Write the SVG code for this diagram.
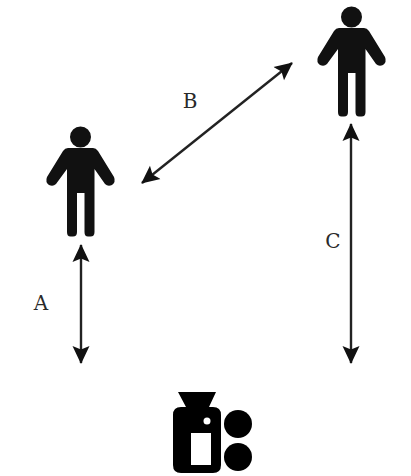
<svg xmlns="http://www.w3.org/2000/svg" width="411" height="476" viewBox="0 0 411 476">
<style>
.lbl{font-family:"DejaVu Serif","Liberation Serif",serif;font-size:20px;fill:#2a2a2a}
.conn{stroke:#222;stroke-width:2.4;fill:none;marker-start:url(#ah);marker-end:url(#ah)}
</style>
<defs>
<marker id="ah" viewBox="0 0 18 18" refX="17" refY="9" markerWidth="18" markerHeight="18" markerUnits="userSpaceOnUse" orient="auto-start-reverse"><path d="M0 0.5L18 9L0 17.5L3.500 9Z" fill="#111"/></marker>
<path id="person" fill="#111" d="M68 148H93Q96 148 98 151L114 177Q116 182 112 185Q108 187 105 184L94.500 169V232Q94.500 236.500 90.500 236.500H88Q84.500 236.500 84.500 232V193H77V232Q77 236.500 73 236.500H70.500Q67 236.500 67 232V169L56 184Q53 187 49 185Q45 182 47 177L63 151Q65 148 68 148ZM80.500 126.500A10.500 10.500 0 1 0 80.500 147.500A10.500 10.500 0 1 0 80.500 126.500Z"/>
</defs>
<rect width="411" height="476" fill="#fff"/>
<g id="connectors">
<path class="conn" d="M81 245V363"/>
<path class="conn" d="M142 183L292 63"/>
<path class="conn" d="M351 124V363"/>
</g>
<g id="person-left"><use href="#person"/></g>
<g id="person-right"><use href="#person" x="271" y="-120"/></g>
<g id="device">
<path fill-rule="evenodd" fill="#000" d="M178 392H216L209 407H213Q221 407 221 415V465Q221 473 213 473H181Q173 473 173 465V415Q173 407 181 407H186ZM191 433V465H211V433Z"/>
<circle cx="207" cy="421" r="3.500" fill="#fff"/>
<circle cx="238" cy="424" r="14" fill="#000"/>
<circle cx="238" cy="457" r="14" fill="#000"/>
</g>
<g id="labels">
<text class="lbl" x="41" y="310" text-anchor="middle">A</text>
<text class="lbl" x="190" y="108" text-anchor="middle">B</text>
<text class="lbl" x="333" y="248" text-anchor="middle">C</text>
</g>
</svg>
